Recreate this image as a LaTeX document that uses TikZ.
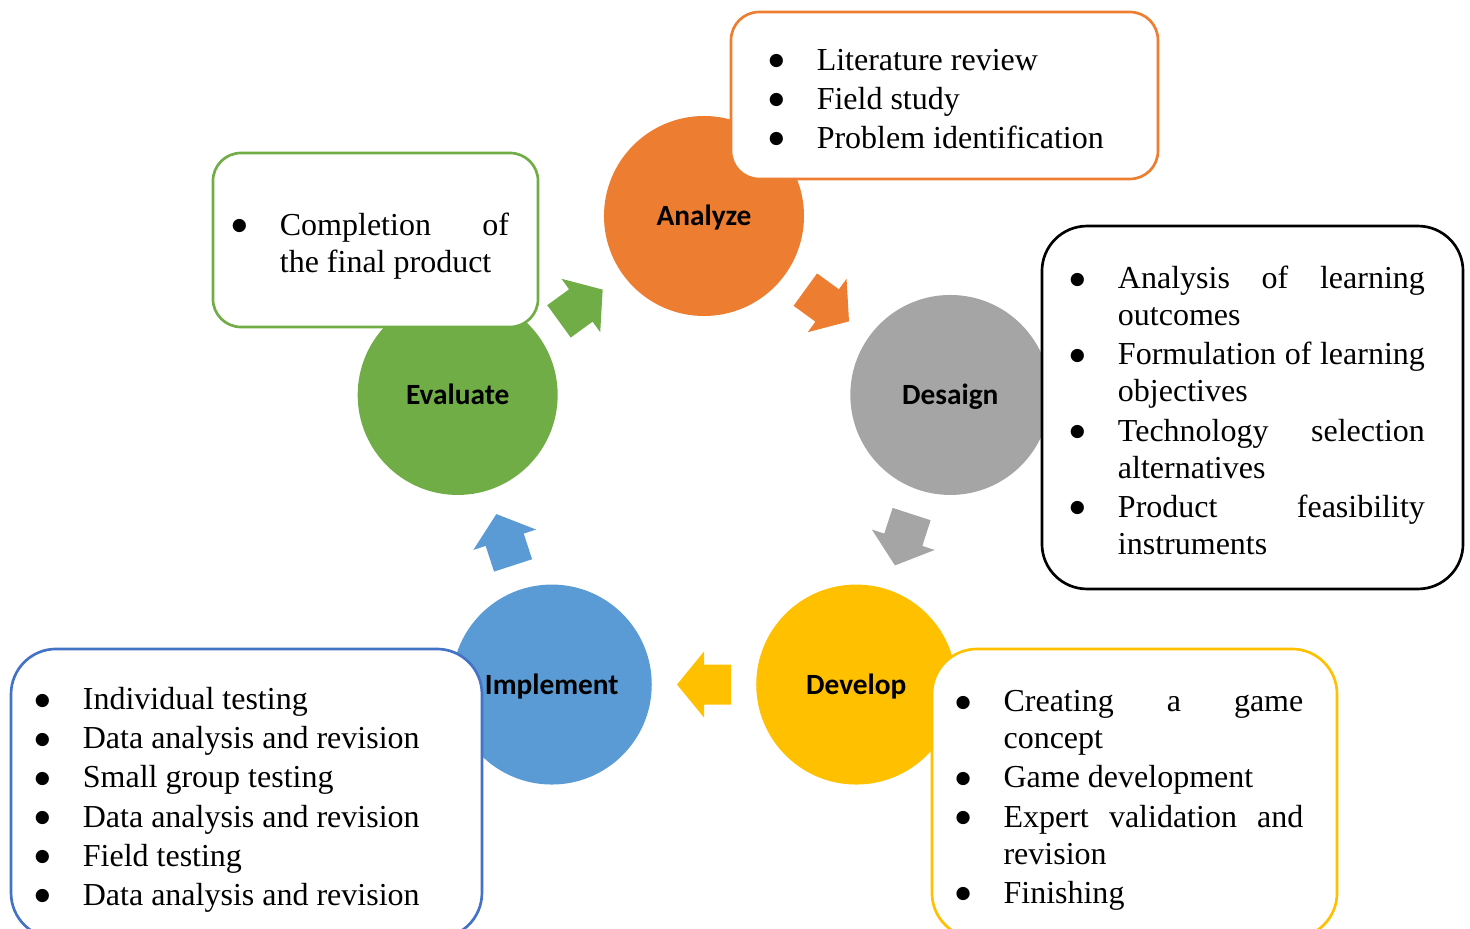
\documentclass[tikz,border=0pt]{standalone}
\usepackage{fontspec}
\setmainfont{Liberation Serif}
\newfontfamily\stagefont{Carlito}
\newfontfamily\dotfont{DejaVu Sans}
\usetikzlibrary{calc}

\definecolor{cOra}{HTML}{ED7D31}
\definecolor{cGry}{HTML}{A5A5A5}
\definecolor{cYel}{HTML}{FFC000}
\definecolor{cBlu}{HTML}{5B9BD5}
\definecolor{cBluD}{HTML}{4472C4}
\definecolor{cGrn}{HTML}{70AD47}

\hyphenpenalty=10000
\exhyphenpenalty=10000
% one bullet point of a note, and the end of the list
\newcommand\bitem{\par\parskip=0.75pt\hangindent=17.6pt\noindent
  \makebox[17.6pt][l]{\kern-0.4pt\raisebox{1.75pt}{\dotfont\fontsize{6.5}{6.5}\selectfont ●}}}
\newcommand\bend{\strut\par}

\begin{document}
\begin{tikzpicture}[x=0.375pt,y=0.375pt,
 stage/.style={circle,minimum size=75pt,inner sep=0pt,text height=7.1pt,text depth=0pt,
   font=\stagefont\bfseries\fontsize{11}{13}\selectfont},
 note/.style={draw,fill=white,line width=1pt,inner sep=0pt,align=justify,
   font=\fontsize{12}{13.9}\selectfont}]
\useasboundingbox (-704,-453) rectangle (766,475);

% the five stages of the cycle
\node[stage,fill=cOra] (ana) at (90:259) {Analyze};
\node[stage,fill=cGry] (des) at (18:259) {Desaign};
\node[stage,fill=cYel] (dev) at (-54:259) {Develop};
\node[stage,fill=cBlu] (imp) at (-126:259) {Implement};
\node[stage,fill=cGrn] (eva) at (162:259) {Evaluate};

% block arrows from one stage to the next
\foreach \s/\t/\r/\c in {ana/des/-36/cOra,des/dev/-108/cGry,dev/imp/180/cYel,
                         imp/eva/108/cBlu,eva/ana/36/cGrn}
  \fill[\c,shift={($(\s)!0.5!(\t)$)},rotate=\r]
    (-27,-20) -- (0,-20) -- (0,-33) -- (27,0) -- (0,33) -- (0,20) -- (-27,20) -- cycle;

% notes
\node[note,draw=cOra,rounded corners=10.5pt,minimum width=160.1pt,minimum height=62.6pt,
  text width=131pt] (anaN) at (240.5,379.5)
  {\bitem Literature review \bitem Field study \bitem Problem identification\bend};
\node[note,draw=black,rounded corners=16.9pt,minimum width=157.9pt,minimum height=136.1pt,
  text width=136.1pt] (desN) at (548.5,67.5)
  {\rightskip=3.4pt
   \bitem Analysis of learning\linebreak outcomes
   \bitem Formulation of learning\linebreak objectives
   \bitem Technology selection\linebreak alternatives
   \bitem Product feasibility\linebreak instruments\bend};
\node[note,draw=cYel,rounded corners=16.9pt,minimum width=151.9pt,minimum height=108.4pt,
  text width=133.4pt] (devN) at (430.5,-318.5)
  {\rightskip=3.4pt
   \bitem Creating a game\linebreak concept
   \bitem Game development
   \bitem Expert validation and\linebreak revision
   \bitem Finishing\bend};
\node[note,draw=cBluD,rounded corners=16.9pt,minimum width=176.6pt,minimum height=108.4pt,
  text width=157.9pt] (impN) at (-457.5,-318.5)
  {\bitem Individual testing \bitem Data analysis and revision
   \bitem Small group testing \bitem Data analysis and revision
   \bitem Field testing \bitem Data analysis and revision\bend};
\node[note,draw=cGrn,rounded corners=10.5pt,minimum width=121.9pt,minimum height=65.25pt,
  text width=106.9pt] (evaN) at (-328.5,235)
  {\rightskip=3.4pt
   \bitem Completion of\linebreak the final product\bend};
\end{tikzpicture}
\end{document}
